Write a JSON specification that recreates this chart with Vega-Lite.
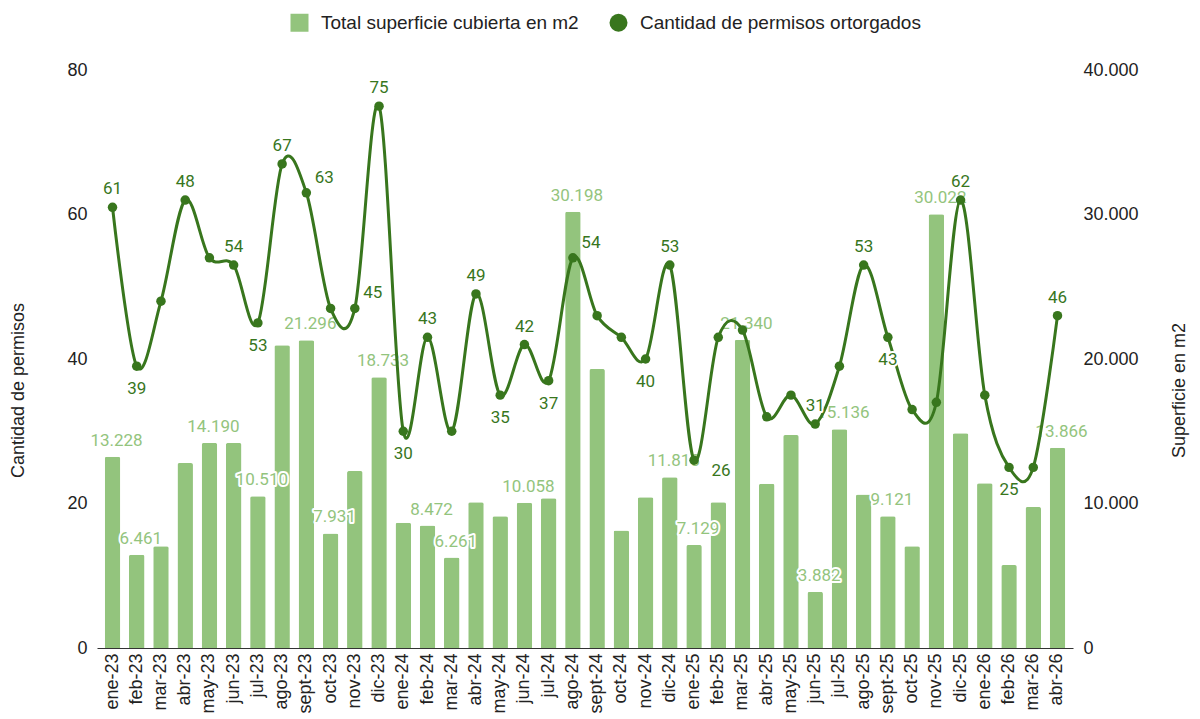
{
  "$schema": "https://vega.github.io/schema/vega-lite/v6.json",
  "width": 976,
  "height": 578,
  "autosize": "none",
  "padding": {"left": 97, "top": 70, "right": 127, "bottom": 71},
  "background": "white",
  "config": {
    "locale": {"number": {"decimal": ",", "thousands": ".", "grouping": [3], "currency": ["$", ""]}},
    "view": {"stroke": null},
    "axis": {"grid": false, "ticks": false, "domain": false, "labelFont": "Liberation Sans", "labelFontSize": 18, "labelColor": "#222222", "titleFont": "Liberation Sans", "titleFontSize": 18, "titleFontWeight": "normal", "titleColor": "#222222"},
    "legend": {"labelFont": "Liberation Sans", "labelFontSize": 19, "labelColor": "#222222", "labelLimit": 0}
  },
  "data": {"values": [
    {"mes": "ene-23", "sup": 13228, "cant": 61, "etq_sup": true, "txt": "61", "pos": "arriba"},
    {"mes": "feb-23", "sup": 6461, "cant": 39, "etq_sup": true, "txt": "39", "pos": "abajo"},
    {"mes": "mar-23", "sup": 7040, "cant": 48, "etq_sup": false, "txt": null, "pos": null},
    {"mes": "abr-23", "sup": 12800, "cant": 62, "etq_sup": false, "txt": "48", "pos": "arriba"},
    {"mes": "may-23", "sup": 14190, "cant": 54, "etq_sup": true, "txt": null, "pos": null},
    {"mes": "jun-23", "sup": 14190, "cant": 53, "etq_sup": false, "txt": "54", "pos": "arriba"},
    {"mes": "jul-23", "sup": 10510, "cant": 45, "etq_sup": true, "txt": "53", "pos": "abajo"},
    {"mes": "ago-23", "sup": 20950, "cant": 67, "etq_sup": false, "txt": "67", "pos": "arriba"},
    {"mes": "sept-23", "sup": 21296, "cant": 63, "etq_sup": true, "txt": "63", "pos": "derecha"},
    {"mes": "oct-23", "sup": 7931, "cant": 47, "etq_sup": true, "txt": null, "pos": null},
    {"mes": "nov-23", "sup": 12250, "cant": 47, "etq_sup": false, "txt": "45", "pos": "derecha"},
    {"mes": "dic-23", "sup": 18733, "cant": 75, "etq_sup": true, "txt": "75", "pos": "arriba"},
    {"mes": "ene-24", "sup": 8670, "cant": 30, "etq_sup": false, "txt": "30", "pos": "abajo"},
    {"mes": "feb-24", "sup": 8472, "cant": 43, "etq_sup": true, "txt": "43", "pos": "arriba"},
    {"mes": "mar-24", "sup": 6261, "cant": 30, "etq_sup": true, "txt": null, "pos": null},
    {"mes": "abr-24", "sup": 10080, "cant": 49, "etq_sup": false, "txt": "49", "pos": "arriba"},
    {"mes": "may-24", "sup": 9110, "cant": 35, "etq_sup": false, "txt": "35", "pos": "abajo"},
    {"mes": "jun-24", "sup": 10058, "cant": 42, "etq_sup": true, "txt": "42", "pos": "arriba"},
    {"mes": "jul-24", "sup": 10360, "cant": 37, "etq_sup": false, "txt": "37", "pos": "abajo"},
    {"mes": "ago-24", "sup": 30198, "cant": 54, "etq_sup": true, "txt": "54", "pos": "derecha"},
    {"mes": "sept-24", "sup": 19310, "cant": 46, "etq_sup": false, "txt": null, "pos": null},
    {"mes": "oct-24", "sup": 8140, "cant": 43, "etq_sup": false, "txt": null, "pos": null},
    {"mes": "nov-24", "sup": 10430, "cant": 40, "etq_sup": false, "txt": "40", "pos": "abajo"},
    {"mes": "dic-24", "sup": 11813, "cant": 53, "etq_sup": true, "txt": "53", "pos": "arriba"},
    {"mes": "ene-25", "sup": 7129, "cant": 26, "etq_sup": true, "txt": "26", "pos": "abajo-derecha"},
    {"mes": "feb-25", "sup": 10080, "cant": 43, "etq_sup": false, "txt": null, "pos": null},
    {"mes": "mar-25", "sup": 21340, "cant": 44, "etq_sup": true, "txt": null, "pos": null},
    {"mes": "abr-25", "sup": 11370, "cant": 32, "etq_sup": false, "txt": null, "pos": null},
    {"mes": "may-25", "sup": 14740, "cant": 35, "etq_sup": false, "txt": null, "pos": null},
    {"mes": "jun-25", "sup": 3882, "cant": 31, "etq_sup": true, "txt": "31", "pos": "arriba"},
    {"mes": "jul-25", "sup": 15136, "cant": 39, "etq_sup": true, "txt": null, "pos": null},
    {"mes": "ago-25", "sup": 10630, "cant": 53, "etq_sup": false, "txt": "53", "pos": "arriba"},
    {"mes": "sept-25", "sup": 9121, "cant": 43, "etq_sup": true, "txt": "43", "pos": "abajo"},
    {"mes": "oct-25", "sup": 7040, "cant": 33, "etq_sup": false, "txt": null, "pos": null},
    {"mes": "nov-25", "sup": 30022, "cant": 34, "etq_sup": true, "txt": null, "pos": null},
    {"mes": "dic-25", "sup": 14860, "cant": 62, "etq_sup": false, "txt": "62", "pos": "arriba"},
    {"mes": "ene-26", "sup": 11400, "cant": 35, "etq_sup": false, "txt": null, "pos": null},
    {"mes": "feb-26", "sup": 5740, "cant": 25, "etq_sup": false, "txt": "25", "pos": "abajo"},
    {"mes": "mar-26", "sup": 9760, "cant": 25, "etq_sup": false, "txt": null, "pos": null},
    {"mes": "abr-26", "sup": 13866, "cant": 46, "etq_sup": true, "txt": "46", "pos": "arriba"}
  ]},
  "encoding": {
    "x": {
      "field": "mes", "type": "nominal", "sort": null,
      "scale": {"paddingInner": 0.36, "paddingOuter": 0.32},
      "axis": {"title": null, "labelAngle": -90, "labelAlign": "right", "labelBaseline": "middle", "labelPadding": 5, "domain": true, "domainColor": "#333333", "domainWidth": 1, "labelOverlap": false, "labelBound": false}
    }
  },
  "layer": [
    {
      "encoding": {
        "y": {
          "field": "sup", "type": "quantitative",
          "scale": {"domain": [0, 40000], "nice": false},
          "axis": {"orient": "right", "values": [0, 10000, 20000, 30000, 40000], "format": ",d", "labelPadding": 10, "title": "Superficie en m2", "titleAngle": 270, "titleX": 106, "titleY": 320, "titleAlign": "center", "titleBaseline": "middle"}
        }
      },
      "layer": [
        {
          "mark": {"type": "bar", "cornerRadiusTopLeft": 2, "cornerRadiusTopRight": 2},
          "encoding": {
            "color": {"datum": "Total superficie cubierta en m2", "type": "nominal",
              "scale": {"domain": ["Total superficie cubierta en m2", "Cantidad de permisos ortorgados"], "range": ["#93c47d", "#38761d"]},
              "legend": {"title": null, "orient": "none", "legendX": 193, "legendY": -57, "direction": "horizontal", "symbolSize": 324, "symbolStrokeWidth": 0, "labelOffset": 12, "columnPadding": 30, "padding": 0, "labelLimit": 0,
                "encode": {"symbols": {"update": {"shape": {"signal": "datum.value === 'Cantidad de permisos ortorgados' ? 'circle' : 'square'"}, "fillOpacity": {"value": 1}}}}}
            }
          }
        },
        {
          "transform": [{"filter": "datum.etq_sup"}],
          "mark": {"type": "text", "font": "Roboto", "fontSize": 17, "baseline": "middle", "align": "center", "dy": -16, "dx": 4, "fill": "white", "stroke": "white", "strokeWidth": 4, "strokeJoin": "round"},
          "encoding": {"text": {"field": "sup", "type": "quantitative", "format": ",d"}}
        },
        {
          "transform": [{"filter": "datum.etq_sup"}],
          "mark": {"type": "text", "font": "Roboto", "fontSize": 17, "baseline": "middle", "align": "center", "dy": -16, "dx": 4, "color": "#93c47d"},
          "encoding": {"text": {"field": "sup", "type": "quantitative", "format": ",d"}}
        }
      ]
    },
    {
      "encoding": {
        "y": {
          "field": "cant", "type": "quantitative",
          "scale": {"domain": [0, 80], "nice": false},
          "axis": {"orient": "left", "values": [0, 20, 40, 60, 80], "labelPadding": 10, "title": "Cantidad de permisos", "titleAngle": 270, "titleX": -79, "titleY": 320, "titleAlign": "center", "titleBaseline": "middle"}
        }
      },
      "layer": [
        {"mark": {"type": "line", "interpolate": "cardinal", "color": "#38761d", "strokeWidth": 3}, "encoding": {}},
        {
          "mark": {"type": "point", "filled": true, "size": 90, "opacity": 1},
          "encoding": {"color": {"datum": "Cantidad de permisos ortorgados", "type": "nominal"}}
        },
        {
          "transform": [{"filter": "datum.pos === 'arriba'"}],
          "mark": {"type": "text", "font": "Roboto", "fontSize": 17, "baseline": "middle", "align": "center", "dy": -18, "fill": "white", "stroke": "white", "strokeWidth": 4, "strokeJoin": "round"},
          "encoding": {"text": {"field": "txt"}}
        },
        {
          "transform": [{"filter": "datum.pos === 'arriba'"}],
          "mark": {"type": "text", "font": "Roboto", "fontSize": 17, "baseline": "middle", "align": "center", "dy": -18, "color": "#38761d"},
          "encoding": {"text": {"field": "txt"}}
        },
        {
          "transform": [{"filter": "datum.pos === 'abajo'"}],
          "mark": {"type": "text", "font": "Roboto", "fontSize": 17, "baseline": "middle", "align": "center", "dy": 23, "fill": "white", "stroke": "white", "strokeWidth": 4, "strokeJoin": "round"},
          "encoding": {"text": {"field": "txt"}}
        },
        {
          "transform": [{"filter": "datum.pos === 'abajo'"}],
          "mark": {"type": "text", "font": "Roboto", "fontSize": 17, "baseline": "middle", "align": "center", "dy": 23, "color": "#38761d"},
          "encoding": {"text": {"field": "txt"}}
        },
        {
          "transform": [{"filter": "datum.pos === 'derecha'"}],
          "mark": {"type": "text", "font": "Roboto", "fontSize": 17, "baseline": "middle", "align": "center", "dx": 18, "dy": -15, "fill": "white", "stroke": "white", "strokeWidth": 4, "strokeJoin": "round"},
          "encoding": {"text": {"field": "txt"}}
        },
        {
          "transform": [{"filter": "datum.pos === 'derecha'"}],
          "mark": {"type": "text", "font": "Roboto", "fontSize": 17, "baseline": "middle", "align": "center", "dx": 18, "dy": -15, "color": "#38761d"},
          "encoding": {"text": {"field": "txt"}}
        },
        {
          "transform": [{"filter": "datum.pos === 'abajo-derecha'"}],
          "mark": {"type": "text", "font": "Roboto", "fontSize": 17, "baseline": "middle", "align": "center", "dx": 27, "dy": 11, "fill": "white", "stroke": "white", "strokeWidth": 4, "strokeJoin": "round"},
          "encoding": {"text": {"field": "txt"}}
        },
        {
          "transform": [{"filter": "datum.pos === 'abajo-derecha'"}],
          "mark": {"type": "text", "font": "Roboto", "fontSize": 17, "baseline": "middle", "align": "center", "dx": 27, "dy": 11, "color": "#38761d"},
          "encoding": {"text": {"field": "txt"}}
        }
      ]
    }
  ],
  "resolve": {"scale": {"y": "independent"}}
}
